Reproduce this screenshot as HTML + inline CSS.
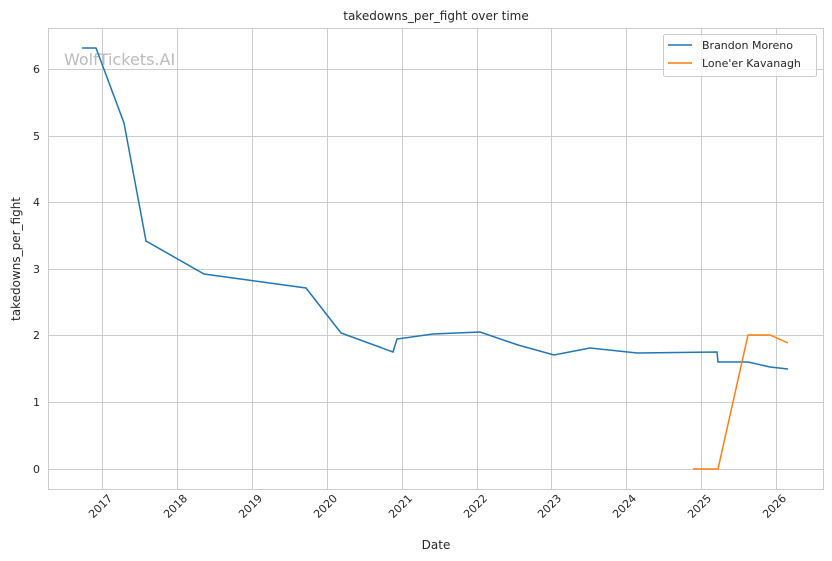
<!DOCTYPE html>
<html><head><meta charset="utf-8"><style>body{margin:0;background:#fff}svg{display:block}text{font-family:"DejaVu Sans","Liberation Sans",sans-serif;fill:#262626}</style></head><body>
<svg width="832" height="561" xmlns="http://www.w3.org/2000/svg">
<rect width="832" height="561" fill="#fff"/>
<g stroke="#cccccc" stroke-width="1">
<line x1="102.5" y1="28" x2="102.5" y2="490"/><line x1="177.5" y1="28" x2="177.5" y2="490"/><line x1="252.5" y1="28" x2="252.5" y2="490"/><line x1="327.5" y1="28" x2="327.5" y2="490"/><line x1="402.5" y1="28" x2="402.5" y2="490"/><line x1="477.5" y1="28" x2="477.5" y2="490"/><line x1="551.5" y1="28" x2="551.5" y2="490"/><line x1="626.5" y1="28" x2="626.5" y2="490"/><line x1="701.5" y1="28" x2="701.5" y2="490"/><line x1="776.5" y1="28" x2="776.5" y2="490"/>
<line x1="48" y1="69.5" x2="824" y2="69.5"/><line x1="48" y1="136.5" x2="824" y2="136.5"/><line x1="48" y1="202.5" x2="824" y2="202.5"/><line x1="48" y1="269.5" x2="824" y2="269.5"/><line x1="48" y1="335.5" x2="824" y2="335.5"/><line x1="48" y1="402.5" x2="824" y2="402.5"/><line x1="48" y1="469.5" x2="824" y2="469.5"/>
<rect x="48.5" y="28.5" width="775" height="461" fill="none"/>
</g>
<text x="64" y="65" font-size="16" style="fill:#bbbbbb">WolfTickets.AI</text>
<polyline fill="none" stroke="#1f77b4" stroke-width="1.5" points="82,48 96,48 124,123 146,241 204,274 306,288 341,333 393,352 397,339 433,334 480,332 518,345 554,355 590,348 637,353 717,352 718,362 748,362 770,367 788,369"/>
<polyline fill="none" stroke="#ff7f0e" stroke-width="1.5" points="693,469 718,469 748,335 770,335 788,343"/>
<g font-size="11" text-anchor="end">
<text x="40" y="73">6</text><text x="40" y="140">5</text><text x="40" y="206">4</text><text x="40" y="273">3</text><text x="40" y="339">2</text><text x="40" y="406">1</text><text x="40" y="473">0</text>
</g>
<g font-size="11" text-anchor="end">
<text transform="translate(113,499) rotate(-45)">2017</text><text transform="translate(188,499) rotate(-45)">2018</text><text transform="translate(263,499) rotate(-45)">2019</text><text transform="translate(338,499) rotate(-45)">2020</text><text transform="translate(413,499) rotate(-45)">2021</text><text transform="translate(488,499) rotate(-45)">2022</text><text transform="translate(562,499) rotate(-45)">2023</text><text transform="translate(637,499) rotate(-45)">2024</text><text transform="translate(712,499) rotate(-45)">2025</text><text transform="translate(787,499) rotate(-45)">2026</text>
</g>
<text x="436" y="549" font-size="12" text-anchor="middle">Date</text>
<text transform="translate(20,259) rotate(-90)" font-size="12" text-anchor="middle">takedowns_per_fight</text>
<text x="436" y="20" font-size="12" text-anchor="middle">takedowns_per_fight over time</text>
<rect x="663.5" y="34.5" width="153" height="42" rx="2" fill="#fff" fill-opacity="0.8" stroke="#cccccc"/>
<line x1="668" y1="45" x2="692" y2="45" stroke="#1f77b4" stroke-width="1.5"/>
<line x1="668" y1="63" x2="692" y2="63" stroke="#ff7f0e" stroke-width="1.5"/>
<text x="702" y="49" font-size="11">Brandon Moreno</text>
<text x="702" y="67" font-size="11">Lone'er Kavanagh</text>
</svg>
</body></html>
